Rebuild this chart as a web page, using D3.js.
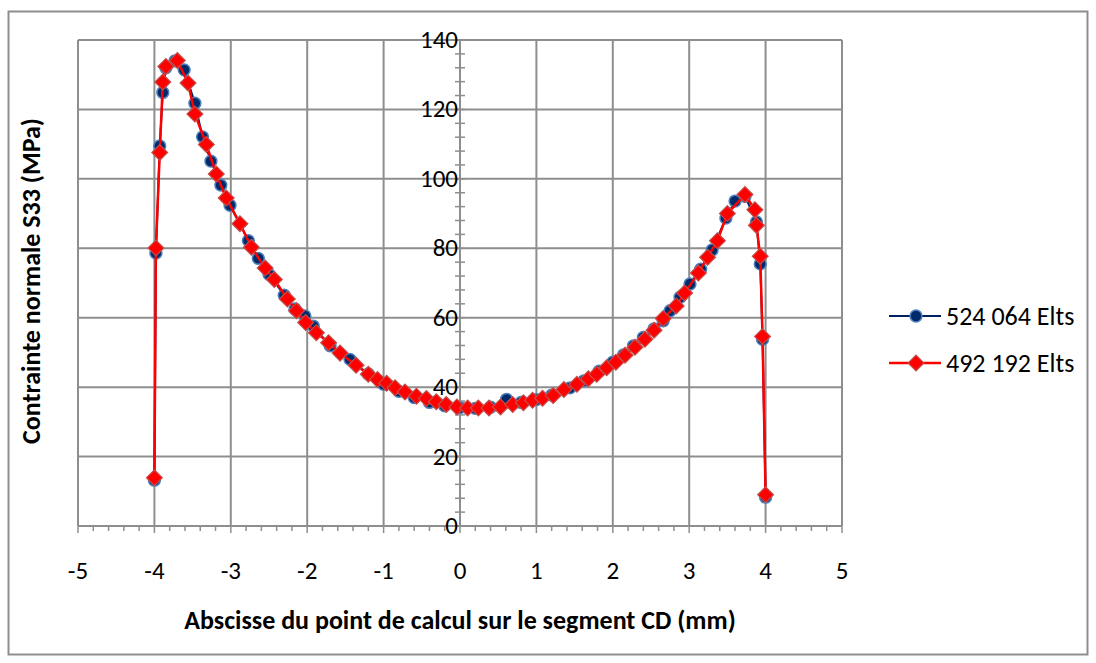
<!DOCTYPE html>
<html>
<head>
<meta charset="utf-8">
<script src="https://cdn.jsdelivr.net/npm/d3@7"></script>
<style>
  body { margin: 0; background: #fff; }
  svg { display: block; font-family: Carlito, Lato, "Liberation Sans", sans-serif; }
</style>
</head>
<body>
<svg id="viz" width="1096" height="663"></svg>
<script>
(() => {
  // 524 064 Elts
  const blueX = [-4.00, -3.98, -3.93, -3.89, -3.85, -3.73, -3.61, -3.47, -3.37, -3.26, -3.13, -3.01, -2.77, -2.64, -2.50, -2.30, -2.16, -2.03, -1.92, -1.70, -1.44, -1.20, -1.00, -0.80, -0.60, -0.40, -0.20, 0.00, 0.20, 0.40, 0.61, 0.80, 1.00, 1.20, 1.44, 1.62, 1.82, 2.00, 2.14, 2.27, 2.40, 2.54, 2.66, 2.75, 2.88, 3.01, 3.15, 3.30, 3.48, 3.60, 3.73, 3.88, 3.93, 3.96, 4.00];
  const blueY = [13.2, 78.6, 109.5, 124.9, 132.0, 134.0, 131.4, 121.8, 112.1, 105.1, 98.2, 92.4, 82.2, 77.1, 72.5, 66.5, 62.5, 60.5, 57.6, 51.9, 48.0, 43.8, 40.8, 38.8, 37.0, 35.6, 34.6, 34.1, 33.9, 34.2, 36.5, 35.6, 36.4, 37.7, 39.8, 41.8, 44.6, 47.2, 49.3, 51.9, 54.3, 56.8, 59.1, 62.0, 65.9, 69.7, 74.0, 79.5, 88.7, 93.6, 95.0, 87.6, 75.5, 53.8, 8.3];

  // 492 192 Elts
  const redX = [-4.00, -3.98, -3.93, -3.89, -3.85, -3.70, -3.56, -3.47, -3.32, -3.19, -3.06, -2.88, -2.73, -2.55, -2.43, -2.26, -2.14, -2.02, -1.88, -1.72, -1.57, -1.36, -1.20, -1.08, -0.96, -0.85, -0.72, -0.57, -0.44, -0.31, -0.18, -0.04, 0.10, 0.24, 0.38, 0.53, 0.69, 0.83, 0.95, 1.08, 1.22, 1.36, 1.53, 1.68, 1.79, 1.92, 2.04, 2.16, 2.29, 2.42, 2.54, 2.66, 2.83, 2.94, 3.12, 3.24, 3.37, 3.50, 3.73, 3.86, 3.88, 3.93, 3.96, 4.00];
  const redY = [13.9, 80.1, 107.6, 127.9, 132.4, 134.1, 127.6, 118.7, 109.9, 101.4, 94.5, 87.1, 80.3, 74.3, 71.0, 65.4, 62.0, 58.6, 55.7, 52.8, 49.8, 46.3, 43.7, 42.2, 41.1, 39.8, 38.6, 37.4, 36.7, 35.8, 35.0, 34.3, 34.0, 34.0, 34.0, 34.3, 35.0, 35.5, 36.2, 36.8, 37.6, 39.3, 40.8, 42.4, 43.7, 45.6, 47.2, 49.2, 51.5, 53.8, 56.4, 59.8, 63.4, 67.1, 72.9, 77.4, 82.2, 90.0, 95.5, 91.1, 86.6, 77.7, 54.6, 9.0];

  const xTicks = [-5, -4, -3, -2, -1, 0, 1, 2, 3, 4, 5];
  const yTicks = [0, 20, 40, 60, 80, 100, 120, 140];
  const seriesNames = ['524 064 Elts', '492 192 Elts'];

  const GRID = '#8e8e8e';
  const svg = d3.select('#viz');

  // outer chart frame
  svg.append('rect')
    .attr('x', 8.5).attr('y', 11.5)
    .attr('width', 1079).attr('height', 643)
    .attr('fill', '#fff').attr('stroke', GRID).attr('stroke-width', 2);

  const x = d3.scaleLinear().domain([-5, 5]).range([78, 842]);
  const y = d3.scaleLinear().domain([0, 140]).range([526, 40]);

  const g = svg.append('g');

  // gridlines
  g.selectAll('line.vg').data(xTicks).join('line')
    .attr('x1', (d) => x(d)).attr('x2', (d) => x(d))
    .attr('y1', y(140)).attr('y2', y(0))
    .attr('stroke', GRID).attr('stroke-width', 2);
  g.selectAll('line.hg').data(yTicks).join('line')
    .attr('x1', x(-5)).attr('x2', x(5))
    .attr('y1', (d) => y(d)).attr('y2', (d) => y(d))
    .attr('stroke', GRID).attr('stroke-width', 2);

  // x axis at y = 0, minor ticks every 0.2 below the line
  const xMinor = d3.range(-5, 5.001, 0.2);
  g.selectAll('line.xm').data(xMinor).join('line')
    .attr('x1', (d) => x(d)).attr('x2', (d) => x(d))
    .attr('y1', y(0)).attr('y2', (d) => y(0) + (Math.abs(d - Math.round(d)) < 1e-6 ? 7 : 5))
    .attr('stroke', GRID).attr('stroke-width', 1.5);

  // y axis at x = 0, minor ticks every 4 crossing the line
  const yMinor = d3.range(0, 140.001, 4);
  g.selectAll('line.ym').data(yMinor).join('line')
    .attr('x1', x(0) - 5).attr('x2', x(0) + 5)
    .attr('y1', (d) => y(d)).attr('y2', (d) => y(d))
    .attr('stroke', GRID).attr('stroke-width', 1.5);

  // tick labels
  g.selectAll('text.xt').data(xTicks).join('text')
    .attr('x', (d) => x(d)).attr('y', 579)
    .attr('text-anchor', 'middle')
    .attr('font-size', 25).attr('fill', '#000')
    .text((d) => d);
  g.selectAll('text.yt').data(yTicks).join('text')
    .attr('x', x(0) - 2).attr('y', (d) => y(d) + 8)
    .attr('text-anchor', 'end')
    .attr('font-size', 25).attr('fill', '#000')
    .text((d) => d);

  // series
  const series = [
    { name: seriesNames[0], xs: blueX, ys: blueY, color: '#002060', width: 2, marker: 'circle' },
    { name: seriesNames[1], xs: redX, ys: redY, color: '#ff0000', width: 2.5, marker: 'diamond' }
  ];

  const line = d3.line().x((d) => x(d[0])).y((d) => y(d[1]));
  const circleSym = d3.symbol().type(d3.symbolCircle).size(110);
  const diamondSym = d3.symbol().type(d3.symbolSquare).size(125);

  function drawMarker(sel, s) {
    if (s.marker === 'circle') {
      sel.append('path').attr('d', circleSym)
        .attr('fill', '#002b6b').attr('stroke', '#4f81bd').attr('stroke-width', 1.5);
    } else {
      sel.append('path').attr('d', diamondSym)
        .attr('transform', 'rotate(45)')
        .attr('fill', '#ff0000').attr('stroke', '#c0504d').attr('stroke-width', 1.2);
    }
  }

  series.forEach((s) => {
    const pts = s.xs.map((v, i) => [v, s.ys[i]]);
    g.append('path').datum(pts)
      .attr('fill', 'none').attr('stroke', s.color)
      .attr('stroke-width', s.width).attr('stroke-linejoin', 'round')
      .attr('d', line);
    const m = g.append('g').selectAll('g').data(pts).join('g')
      .attr('transform', (d) => `translate(${x(d[0])},${y(d[1])})`);
    m.each(function () { drawMarker(d3.select(this), s); });
  });

  // axis titles
  svg.append('text')
    .attr('x', 460).attr('y', 629)
    .attr('text-anchor', 'middle')
    .attr('font-size', 26).attr('font-weight', 'bold')
    .text('Abscisse du point de calcul sur le segment CD (mm)');
  svg.append('text')
    .attr('transform', 'translate(40,281) rotate(-90)')
    .attr('text-anchor', 'middle')
    .attr('font-size', 26).attr('font-weight', 'bold')
    .text('Contrainte normale S33 (MPa)');

  // legend
  const legend = svg.append('g');
  series.forEach((s, i) => {
    const ly = 316 + i * 47;
    legend.append('line')
      .attr('x1', 889).attr('x2', 941).attr('y1', ly).attr('y2', ly)
      .attr('stroke', s.color).attr('stroke-width', s.width);
    const mg = legend.append('g').attr('transform', `translate(916,${ly})`);
    drawMarker(mg, s);
    legend.append('text')
      .attr('x', 946).attr('y', ly + 9)
      .attr('font-size', 26).text(s.name);
  });
})();
</script>
</body>
</html>
